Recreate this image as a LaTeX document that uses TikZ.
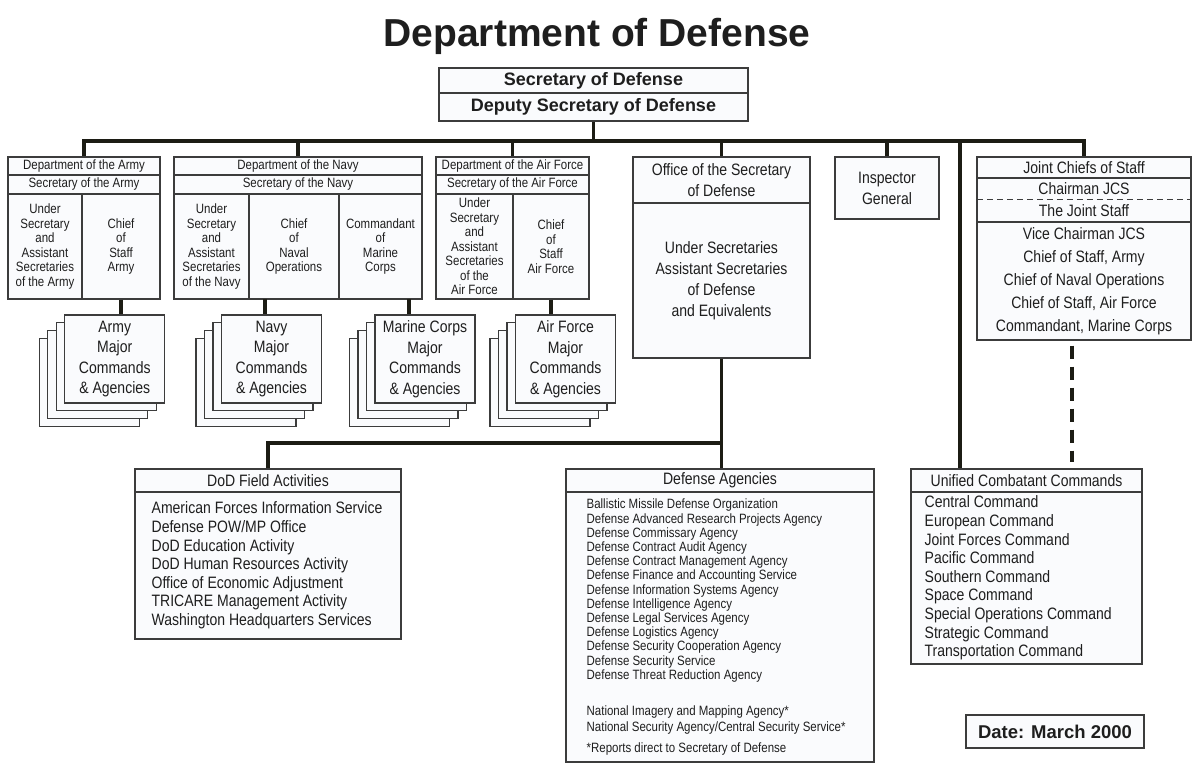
\documentclass[tikz,border=0pt]{standalone}
\usepackage{fontspec}
\setmainfont{Liberation Sans}[FakeStretch=0.85]
\newfontfamily\widefont{Liberation Sans}
\usetikzlibrary{calc,positioning}

\definecolor{boxfill}{RGB}{250,251,253}
\definecolor{boxline}{RGB}{60,60,60}
\definecolor{linkcol}{RGB}{28,28,20}
\definecolor{ink}{RGB}{30,30,30}

\tikzset{
  cell/.style={draw=boxline, fill=boxfill, line width=1.1pt, inner sep=0pt, align=center, text=ink},
  sheet/.style={cell, minimum width=100, minimum height=88, font=\fontsize{16.5}{20.5}\selectfont},
  link/.style={draw=linkcol, line width=3.8pt},
  list/.style={inner sep=0pt, align=left, text=ink, anchor=west},
  fsmall/.style={font=\fontsize{13.5}{14.5}\selectfont},
  fmid/.style={font=\fontsize{16.5}{21}\selectfont},
  fbold/.style={font=\widefont\bfseries\fontsize{18}{22}\selectfont},
}

\begin{document}
\begin{tikzpicture}[x=1pt,y=-1pt]
 \fill[white] (0,0) rectangle (1193,764);
 \useasboundingbox (0,0) rectangle (1193,764);

    % title
    \node[text=ink, anchor=base, font=\widefont\bfseries\fontsize{39}{41}\selectfont] (title) at (597,46) {Department of Defense};

    % secretary
    \node[cell, fbold, minimum width=309, minimum height=25] (sdTop) at (593.5,80.5) {Secretary of Defense};
    \node[cell, fbold, minimum width=309, minimum height=28] (sdBot) at (593.5,107) {Deputy Secretary of Defense};

    % draw army
    \node[cell, fsmall, minimum width=152, minimum height=18] (armyDept) at (84,166) {Department of the Army};
    \node[cell, fsmall, minimum width=152, minimum height=19] (armySec) at (84,184.5) {Secretary of the Army};
    \node[cell, fsmall, minimum width=74, minimum height=105] (armyUnder) at (45,246.5) {Under\\Secretary\\and\\Assistant\\Secretaries\\of the Army};
    \node[cell, fsmall, minimum width=78, minimum height=105] (armyChief) at (121,246.5) {Chief\\of\\Staff\\Army};

    % draw navy
    \node[cell, fsmall, minimum width=248, minimum height=18] (navyDept) at (298,166) {Department of the Navy};
    \node[cell, fsmall, minimum width=248, minimum height=19] (navySec) at (298,184.5) {Secretary of the Navy};
    \node[cell, fsmall, minimum width=75, minimum height=105] (navyUnder) at (211.5,246.5) {Under\\Secretary\\and\\Assistant\\Secretaries\\of the Navy};
    \node[cell, fsmall, minimum width=90, minimum height=105] (navyCNO) at (294,246.5) {Chief\\of\\Naval\\Operations};
    \node[cell, fsmall, minimum width=83, minimum height=105] (navyCMC) at (380.5,246.5) {Commandant\\of\\Marine\\Corps};

    % draw air force
    \node[cell, fsmall, minimum width=153, minimum height=18] (afDept) at (512.5,166) {Department of the Air Force};
    \node[cell, fsmall, minimum width=153, minimum height=19] (afSec) at (512.5,184.5) {Secretary of the Air Force};
    \node[cell, fsmall, minimum width=77, minimum height=105] (afUnder) at (474.5,246.5) {Under\\Secretary\\and\\Assistant\\Secretaries\\of the\\Air Force};
    \node[cell, fsmall, minimum width=76, minimum height=105] (afChief) at (551,246.5) {Chief\\of\\Staff\\Air Force};

    % osd and inspector
    \node[cell, fmid, minimum width=177, minimum height=46] (osdHead) at (721.5,180) {Office of the Secretary\\of Defense};
    \node[cell, fmid, minimum width=177, minimum height=155] (osdBody) at (721.5,280.5) {Under Secretaries\\Assistant Secretaries\\of Defense\\and Equivalents};
    \node[cell, fmid, minimum width=104, minimum height=62] (ig) at (887,188) {Inspector\\General};

    % joint chiefs
    \node[cell, minimum width=214, minimum height=183] (jcs) at (1084,248.5) {};
    \node[cell, fmid, minimum width=214, minimum height=21] (jcsHead) at (1084,167.5) {Joint Chiefs of Staff};
    \node[fmid, text=ink, inner sep=0pt, minimum width=214, minimum height=21] (jcsChair) at (1084,188.5) {Chairman JCS};
    \node[fmid, text=ink, inner sep=0pt, minimum width=214, minimum height=23] (jcsStaff) at (1084,210.5) {The Joint Staff};
    \node[cell, font=\fontsize{16.5}{23}\selectfont, minimum width=214, minimum height=118] (jcsBody) at (1084,281) {Vice Chairman JCS\\Chief of Staff, Army\\Chief of Naval Operations\\Chief of Staff, Air Force\\Commandant, Marine Corps};
    \draw[boxline, line width=1.1pt, dash pattern=on 6pt off 4pt] (jcsChair.south west) -- (jcsChair.south east);

    % major commands stacks
    \foreach \nm/\cx/\txt in {armyM/114.75/Army, navyM/271.5/Navy, marineM/425/Marine Corps, afM/565.5/Air Force}{
      \foreach \k in {3,2,1}
        \node[sheet] (\nm\k) at (\cx-8.5*\k, 359+7.7*\k) {};
      \node[sheet] (\nm) at (\cx,359) {\txt\\Major\\Commands\\\& Agencies};
    }

    % bottom boxes
    \node[cell, fmid, minimum width=266, minimum height=23] (fieldHead) at (268,480.5) {DoD Field Activities};
    \node[cell, minimum width=266, minimum height=147] (fieldBody) at (268,565.5) {};
    \node[list, font=\fontsize{16.5}{18.6}\selectfont] (fieldList) at ($(fieldBody.west)+(17,0)$) {American Forces Information Service\\Defense POW/MP Office\\DoD Education Activity\\DoD Human Resources Activity\\Office of Economic Adjustment\\TRICARE Management Activity\\Washington Headquarters Services};

    \node[cell, fmid, minimum width=308, minimum height=23] (agHead) at (720,480.5) {Defense Agencies};
    \node[cell, minimum width=308, minimum height=270] (agBody) at (720,627) {};
    \node[list, font=\fontsize{13.5}{14.2}\selectfont] (agList) at ($(agBody.west)+(21,0)$) {Ballistic Missile Defense Organization\\Defense Advanced Research Projects Agency\\Defense Commissary Agency\\Defense Contract Audit Agency\\Defense Contract Management Agency\\Defense Finance and Accounting Service\\Defense Information Systems Agency\\Defense Intelligence Agency\\Defense Legal Services Agency\\Defense Logistics Agency\\Defense Security Cooperation Agency\\Defense Security Service\\Defense Threat Reduction Agency\\[21.8pt]National Imagery and Mapping Agency*\\[1.8pt]National Security Agency/Central Security Service*\\[6.8pt]*Reports direct to Secretary of Defense};

    \node[cell, fmid, minimum width=231, minimum height=23] (ucHead) at (1026.5,480.5) {Unified Combatant Commands};
    \node[cell, minimum width=231, minimum height=172] (ucBody) at (1026.5,578) {};
    \node[list, font=\fontsize{16.5}{18.6}\selectfont] (ucList) at ($(ucBody.west)+(14,0)$) {Central Command\\European Command\\Joint Forces Command\\Pacific Command\\Southern Command\\Space Command\\Special Operations Command\\Strategic Command\\Transportation Command};

    \node[cell, font=\widefont\bfseries\fontsize{18.5}{22}\selectfont, minimum width=178, minimum height=33] (date) at (1055,731.5) {Date: March 2000};

    % draw connectors
    \coordinate (bus) at (595,141);
    \draw[link] (armyDept.north) |- (bus) -| (jcs.north);
    \foreach \nd in {navyDept, afDept, osdHead, ig}
      \draw[link] (\nd.north) -- (\nd.north |- bus);
    \draw[link] (sdBot.south) -- (sdBot.south |- bus);
    \coordinate (jsLine) at (960,141);
    \draw[link] (jsLine) -- (jsLine |- ucHead.north);
    \draw[link, dash pattern=on 13pt off 8pt] ($(jcs.south)+(-12,5)$) -- ($(jcs.south |- ucHead.north)+(-12,-6)$);

    \coordinate (navyDrop) at (265,299);
    \coordinate (marineDrop) at (409,299);
    \draw[link] (armyChief.south) -- (armyChief.south |- armyM.north);
    \draw[link] (navyDrop) -- (navyDrop |- navyM.north);
    \draw[link] (marineDrop) -- (marineDrop |- marineM.north);
    \draw[link] (afChief.south) -- (afChief.south |- afM.north);

    \coordinate (lowBus) at (721.5,443);
    \draw[link] (osdBody.south) -- (osdBody.south |- agHead.north);
    \draw[link] (fieldHead.north) |- (lowBus);

\end{tikzpicture}
\end{document}
